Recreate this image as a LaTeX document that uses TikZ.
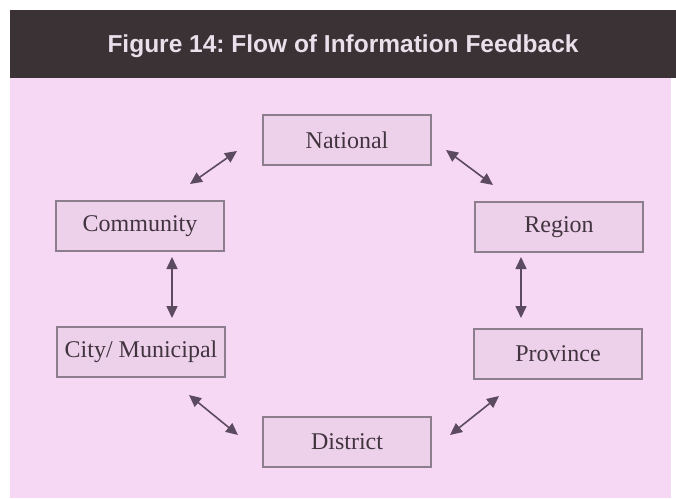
\documentclass[tikz,border=0pt]{standalone}
\usepackage{fontspec}
\setmainfont{Liberation Serif}
\newfontfamily\headfont{Liberation Sans}
\usetikzlibrary{arrows.meta}
\frenchspacing
\definecolor{barcol}{HTML}{3B3236}
\definecolor{bodycol}{HTML}{F6D8F4}
\definecolor{boxfill}{HTML}{EDD1EB}
\definecolor{boxline}{HTML}{8C7E8C}
\definecolor{txtcol}{HTML}{42343F}
\definecolor{arrcol}{HTML}{5C4B60}
\definecolor{headtxt}{HTML}{EADFEA}
\tikzset{
  levelbox/.style={draw=boxline, line width=1.2pt, fill=boxfill, minimum width=168pt, minimum height=50pt, inner sep=0pt, text=txtcol, font=\fontsize{24}{26}\selectfont},
  flow/.style={draw=arrcol, line width=1.6pt, {Triangle[length=12pt,width=11pt]}-{Triangle[length=12pt,width=11pt]}}
}
\begin{document}
\begin{tikzpicture}[x=1pt,y=-1pt]
\useasboundingbox (0,0) rectangle (676,498);
\fill[white] (0,0) rectangle (676,498);
\fill[bodycol] (10,77) rectangle (671,498);
\fill[barcol] (10,10) rectangle (676,78);
\node[text=headtxt, font=\headfont\bfseries\fontsize{24.5}{26}\selectfont] (title) at (343,46) {Figure 14: Flow of Information Feedback};
\node[levelbox] (national) at (347,140) {National};
\node[levelbox] (community) at (140,226) {Community};
\node[levelbox] (region) at (559,227) {Region};
\node[levelbox] (city) at (141,352) {City/ Municipal};
\node[levelbox] (province) at (558,354) {Province};
\node[levelbox] (district) at (347,442) {District};
\coordinate (nc1) at (190,184); \coordinate (nc2) at (237,151);
\coordinate (nr1) at (446,150); \coordinate (nr2) at (493,185);
\coordinate (cc1) at (172,257); \coordinate (cc2) at (172,318);
\coordinate (rp1) at (521,257); \coordinate (rp2) at (521,318);
\coordinate (cd1) at (189,395); \coordinate (cd2) at (238,435);
\coordinate (pd1) at (499,396); \coordinate (pd2) at (450,435);
\draw[flow] (nc1) -- (nc2);
\draw[flow] (nr1) -- (nr2);
\draw[flow] (cc1) -- (cc2);
\draw[flow] (rp1) -- (rp2);
\draw[flow] (cd1) -- (cd2);
\draw[flow] (pd1) -- (pd2);
\end{tikzpicture}
\end{document}
